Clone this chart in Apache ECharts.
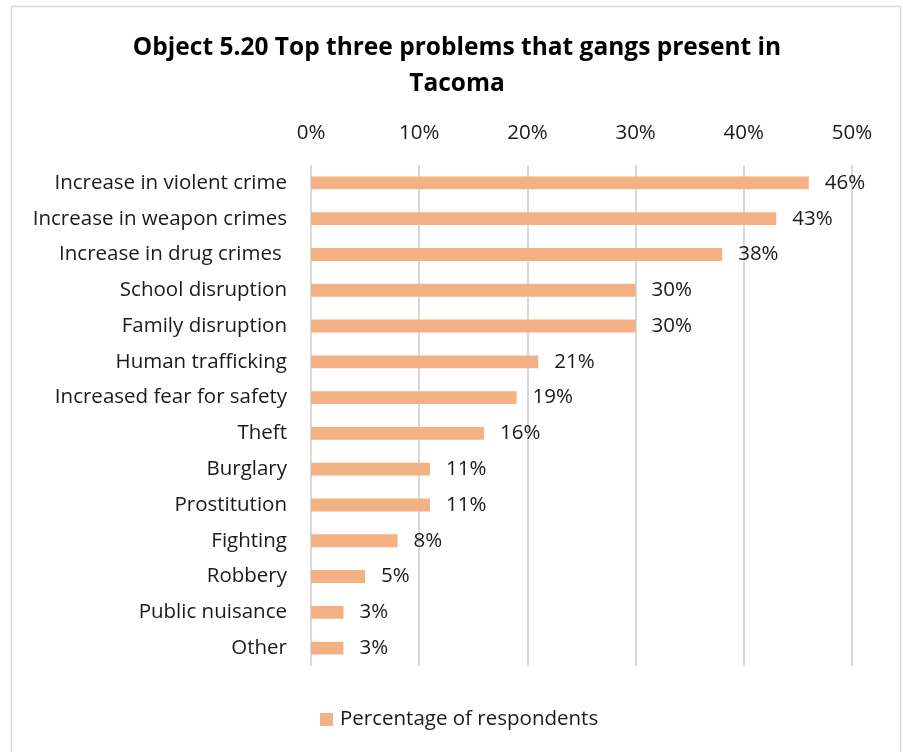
<!DOCTYPE html>
<html>
<head>
<meta charset="utf-8">
<script src="https://cdn.jsdelivr.net/npm/echarts@6/dist/echarts.min.js"></script>
<style>
  html, body { margin: 0; padding: 0; background: #fff; }
  #chart { width: 903px; height: 752px; }
</style>
</head>
<body>
<div id="chart"></div>
<script>
// Survey answers, listed top to bottom
const categories = [
  'Increase in violent crime',
  'Increase in weapon crimes',
  'Increase in drug crimes ',
  'School disruption',
  'Family disruption',
  'Human trafficking',
  'Increased fear for safety',
  'Theft',
  'Burglary',
  'Prostitution',
  'Fighting',
  'Robbery',
  'Public nuisance',
  'Other'
];
// Share of respondents naming each problem (%)
const percentages = [46, 43, 38, 30, 30, 21, 19, 16, 11, 11, 8, 5, 3, 3];
const seriesName = 'Percentage of respondents';
const titleText = 'Object 5.20 Top three problems that gangs present in\nTacoma';

const FONT = '"Open Sans"';
const FS = 20.5;
const TEXT = '#1a1a1a';
const BAR = '#F4B183';
const GRID = '#d9d9d9';

const chart = echarts.init(document.getElementById('chart'), null, { renderer: 'canvas' });

chart.setOption({
  animation: false,
  backgroundColor: '#fff',
  graphic: [{
    type: 'rect',
    shape: { x: 11.5, y: 6.5, width: 889, height: 800 },
    style: { fill: 'none', stroke: GRID, lineWidth: 1.5 },
    silent: true,
    z: -10
  }],
  title: {
    text: titleText,
    left: 452,
    top: 25,
    textAlign: 'center',
    textStyle: {
      fontFamily: FONT,
      fontWeight: 'bold',
      fontSize: 24.5,
      lineHeight: 36,
      color: '#000'
    }
  },
  legend: {
    bottom: 17,
    left: 315,
    itemWidth: 13,
    itemHeight: 13,
    icon: 'rect',
    textStyle: { fontFamily: FONT, fontSize: FS, color: TEXT, padding: [0, 0, 0, 2] },
    data: [seriesName]
  },
  grid: { left: 311, right: 51, top: 165, bottom: 86, containLabel: false },
  xAxis: {
    type: 'value',
    position: 'top',
    min: 0,
    max: 50,
    interval: 10,
    axisLine: { show: false },
    axisTick: { show: false },
    axisLabel: {
      formatter: '{value}%',
      fontFamily: FONT,
      fontSize: FS,
      color: TEXT,
      margin: 21
    },
    splitLine: { show: true, lineStyle: { color: GRID, width: 2 } }
  },
  yAxis: {
    type: 'category',
    inverse: true,
    data: categories,
    axisLine: { show: false },
    axisTick: { show: false },
    axisLabel: {
      fontFamily: FONT,
      fontSize: FS,
      color: TEXT,
      margin: 24
    }
  },
  series: [{
    name: seriesName,
    type: 'bar',
    data: percentages,
    barCategoryGap: '64%',
    itemStyle: { color: BAR },
    label: {
      show: true,
      position: 'right',
      distance: 16,
      formatter: '{c}%',
      fontFamily: FONT,
      fontSize: FS,
      color: TEXT
    }
  }]
});
</script>
</body>
</html>
